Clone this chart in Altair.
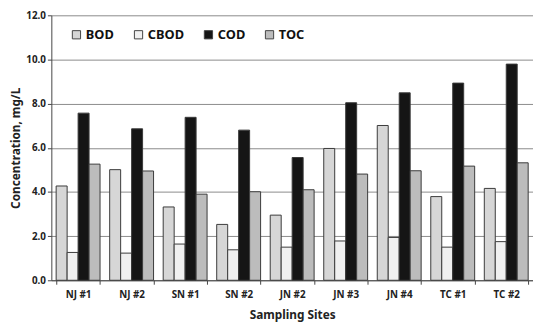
import altair as alt
import pandas as pd

sites = ["NJ #1", "NJ #2", "SN #1", "SN #2", "JN #2", "JN #3", "JN #4", "TC #1", "TC #2"]
params = ["BOD", "CBOD", "COD", "TOC"]
bod = [4.27, 5.01, 3.32, 2.53, 2.95, 5.97, 7.01, 3.79, 4.16]
cbod = [1.26, 1.23, 1.64, 1.38, 1.50, 1.78, 1.94, 1.50, 1.75]
cod = [7.57, 6.86, 7.38, 6.80, 5.56, 8.04, 8.49, 8.93, 9.79]
toc = [5.26, 4.95, 3.90, 4.01, 4.10, 4.81, 4.96, 5.17, 5.32]

rows = []
for series_name, vals in zip(params, [bod, cbod, cod, toc]):
    for s, v in zip(sites, vals):
        rows.append({"site": s, "param": series_name, "value": v})
df = pd.DataFrame(rows)

FONT = "Noto Sans"
fills = ["#d6d6d6", "#f0f0f0", "#151515", "#bcbcbc"]

chart = alt.Chart(df).mark_bar(stroke="#3a3a3a", strokeWidth=1).encode(
    x=alt.X("site:N", sort=sites,
            scale=alt.Scale(paddingInner=0.18, paddingOuter=0.09),
            axis=alt.Axis(title="Sampling Sites", labelAngle=0, tickBand="extent",
                          labelFont=FONT, labelFontWeight="bold", labelFontSize=10,
                          labelColor="#222", titleFont=FONT, titleFontWeight="bold",
                          titleFontSize=12, titleColor="#222", titlePadding=10,
                          labelPadding=6, domainColor="#444", tickColor="#444",
                          tickSize=4, grid=False)),
    xOffset=alt.XOffset("param:N", sort=params),
    y=alt.Y("value:Q",
            scale=alt.Scale(domain=[0, 12], nice=False),
            axis=alt.Axis(title="Concentration, mg/L", values=[0, 2, 4, 6, 8, 10, 12],
                          format=".1f", labelFont=FONT, labelFontWeight="bold",
                          labelFontSize=10, labelColor="#222", titleFont=FONT,
                          titleFontWeight="bold", titleFontSize=12, titleColor="#222",
                          titlePadding=3, gridColor="#8a8a8a", gridWidth=1,
                          domainColor="#444", tickColor="#444", tickSize=4,
                          labelPadding=2)),
    color=alt.Color("param:N", sort=params,
                    scale=alt.Scale(domain=params, range=fills),
                    legend=alt.Legend(title=None, orient="none", direction="horizontal",
                                      legendX=19, legendY=13, symbolType="square",
                                      symbolSize=70, symbolStrokeColor="#444",
                                      symbolStrokeWidth=1, labelFont=FONT,
                                      labelFontWeight="bold", labelFontSize=13,
                                      labelColor="#111", columnPadding=18,
                                      labelOffset=3)),
).properties(width=533, height=318,
             autosize=alt.AutoSizeParams(type="fit", contains="padding"),
             padding={"left": 2, "top": 0, "right": 0, "bottom": 3}
).configure_view(stroke=None)

chart.save("out.html", embed_options={"renderer": "svg", "actions": False})
